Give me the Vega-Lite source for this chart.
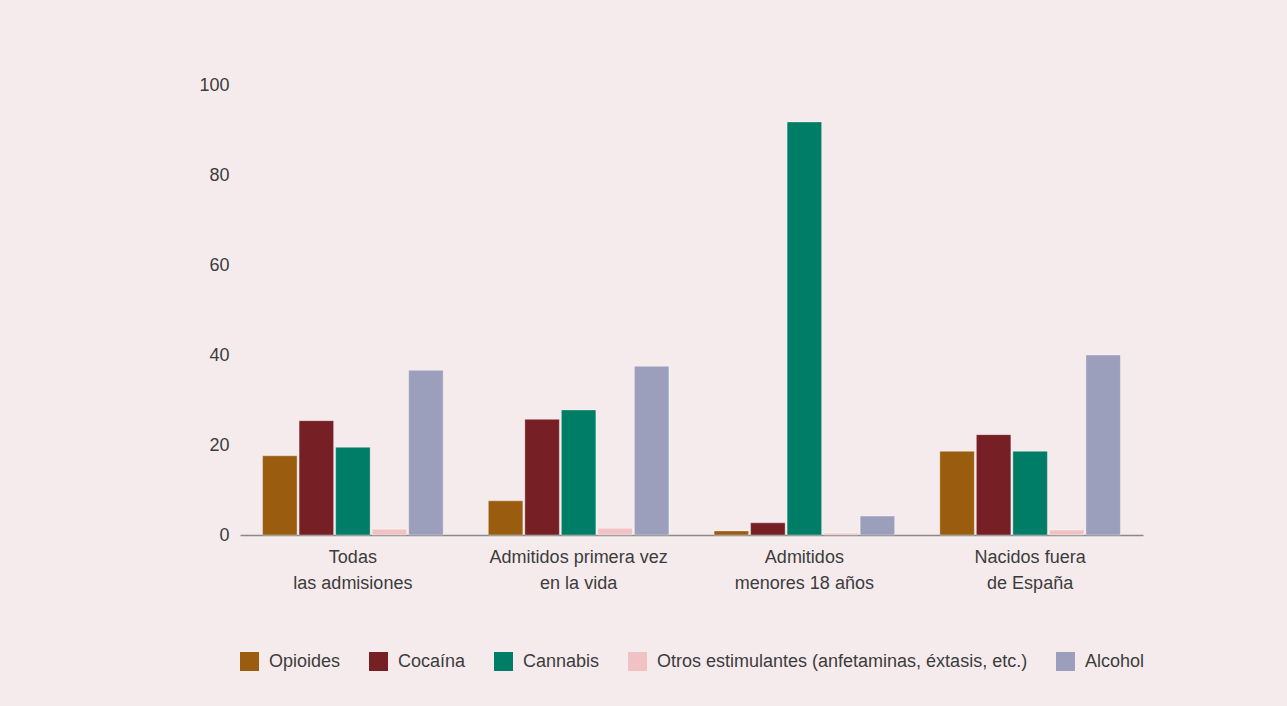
{
  "$schema": "https://vega.github.io/schema/vega-lite/v6.json",
  "autosize": {"type": "none"},
  "width": 903,
  "height": 450,
  "padding": {"left": 240, "top": 85, "right": 144, "bottom": 171},
  "background": "#f5ebed",
  "config": {
    "view": {"stroke": null},
    "font": "Liberation Sans",
    "text": {"font": "Liberation Sans"}
  },
  "data": {
    "values": [
      {"grupo": "Todas|las admisiones", "orden": 1, "sustancia": "Opioides", "valor": 17.6},
      {"grupo": "Todas|las admisiones", "orden": 1, "sustancia": "Cocaína", "valor": 25.4},
      {"grupo": "Todas|las admisiones", "orden": 1, "sustancia": "Cannabis", "valor": 19.5},
      {"grupo": "Todas|las admisiones", "orden": 1, "sustancia": "Otros estimulantes (anfetaminas, éxtasis, etc.)", "valor": 1.3},
      {"grupo": "Todas|las admisiones", "orden": 1, "sustancia": "Alcohol", "valor": 36.6},
      {"grupo": "Admitidos primera vez|en la vida", "orden": 2, "sustancia": "Opioides", "valor": 7.6},
      {"grupo": "Admitidos primera vez|en la vida", "orden": 2, "sustancia": "Cocaína", "valor": 25.7},
      {"grupo": "Admitidos primera vez|en la vida", "orden": 2, "sustancia": "Cannabis", "valor": 27.8},
      {"grupo": "Admitidos primera vez|en la vida", "orden": 2, "sustancia": "Otros estimulantes (anfetaminas, éxtasis, etc.)", "valor": 1.5},
      {"grupo": "Admitidos primera vez|en la vida", "orden": 2, "sustancia": "Alcohol", "valor": 37.5},
      {"grupo": "Admitidos|menores 18 años", "orden": 3, "sustancia": "Opioides", "valor": 0.9},
      {"grupo": "Admitidos|menores 18 años", "orden": 3, "sustancia": "Cocaína", "valor": 2.7},
      {"grupo": "Admitidos|menores 18 años", "orden": 3, "sustancia": "Cannabis", "valor": 91.8},
      {"grupo": "Admitidos|menores 18 años", "orden": 3, "sustancia": "Otros estimulantes (anfetaminas, éxtasis, etc.)", "valor": 0.4},
      {"grupo": "Admitidos|menores 18 años", "orden": 3, "sustancia": "Alcohol", "valor": 4.2},
      {"grupo": "Nacidos fuera|de España", "orden": 4, "sustancia": "Opioides", "valor": 18.6},
      {"grupo": "Nacidos fuera|de España", "orden": 4, "sustancia": "Cocaína", "valor": 22.3},
      {"grupo": "Nacidos fuera|de España", "orden": 4, "sustancia": "Cannabis", "valor": 18.6},
      {"grupo": "Nacidos fuera|de España", "orden": 4, "sustancia": "Otros estimulantes (anfetaminas, éxtasis, etc.)", "valor": 1.1},
      {"grupo": "Nacidos fuera|de España", "orden": 4, "sustancia": "Alcohol", "valor": 40.0}
    ]
  },
  "mark": {"type": "bar", "stroke": "#ffffff", "strokeWidth": 1, "strokeOpacity": 0.35},
  "encoding": {
    "x": {
      "field": "grupo",
      "type": "nominal",
      "sort": ["Todas|las admisiones", "Admitidos primera vez|en la vida", "Admitidos|menores 18 años", "Nacidos fuera|de España"],
      "scale": {"paddingInner": 0.2, "paddingOuter": 0.1},
      "axis": {
        "title": null,
        "labelAngle": 0,
        "labelExpr": "split(datum.label, '|')",
        "labelFontSize": 18,
        "labelColor": "#3c3c3c",
        "labelLineHeight": 26,
        "labelPadding": 13,
        "ticks": false,
        "domainColor": "#8a8a8a",
        "domainWidth": 1.5,
        "labelBaseline": "top"
      }
    },
    "xOffset": {
      "field": "sustancia",
      "type": "nominal",
      "sort": ["Opioides", "Cocaína", "Cannabis", "Otros estimulantes (anfetaminas, éxtasis, etc.)", "Alcohol"],
      "scale": {"paddingInner": 0.055, "paddingOuter": 0}
    },
    "y": {
      "field": "valor",
      "type": "quantitative",
      "scale": {"domain": [0, 100]},
      "axis": {
        "title": null,
        "values": [0, 20, 40, 60, 80, 100],
        "grid": false,
        "domain": false,
        "ticks": false,
        "labelFontSize": 18,
        "labelColor": "#3c3c3c",
        "labelPadding": 11
      }
    },
    "color": {
      "field": "sustancia",
      "type": "nominal",
      "sort": ["Opioides", "Cocaína", "Cannabis", "Otros estimulantes (anfetaminas, éxtasis, etc.)", "Alcohol"],
      "scale": {
        "domain": ["Opioides", "Cocaína", "Cannabis", "Otros estimulantes (anfetaminas, éxtasis, etc.)", "Alcohol"],
        "range": ["#9a5c0e", "#761f24", "#007d66", "#f0c2c4", "#9b9fbb"]
      },
      "legend": {
        "title": null,
        "orient": "bottom",
        "direction": "horizontal",
        "symbolType": "square",
        "symbolSize": 361,
        "symbolStrokeWidth": 0,
        "labelFontSize": 18,
        "labelColor": "#3c3c3c",
        "labelOffset": 10,
        "columnPadding": 28,
        "offset": 60,
        "labelLimit": 500
      }
    }
  }
}
